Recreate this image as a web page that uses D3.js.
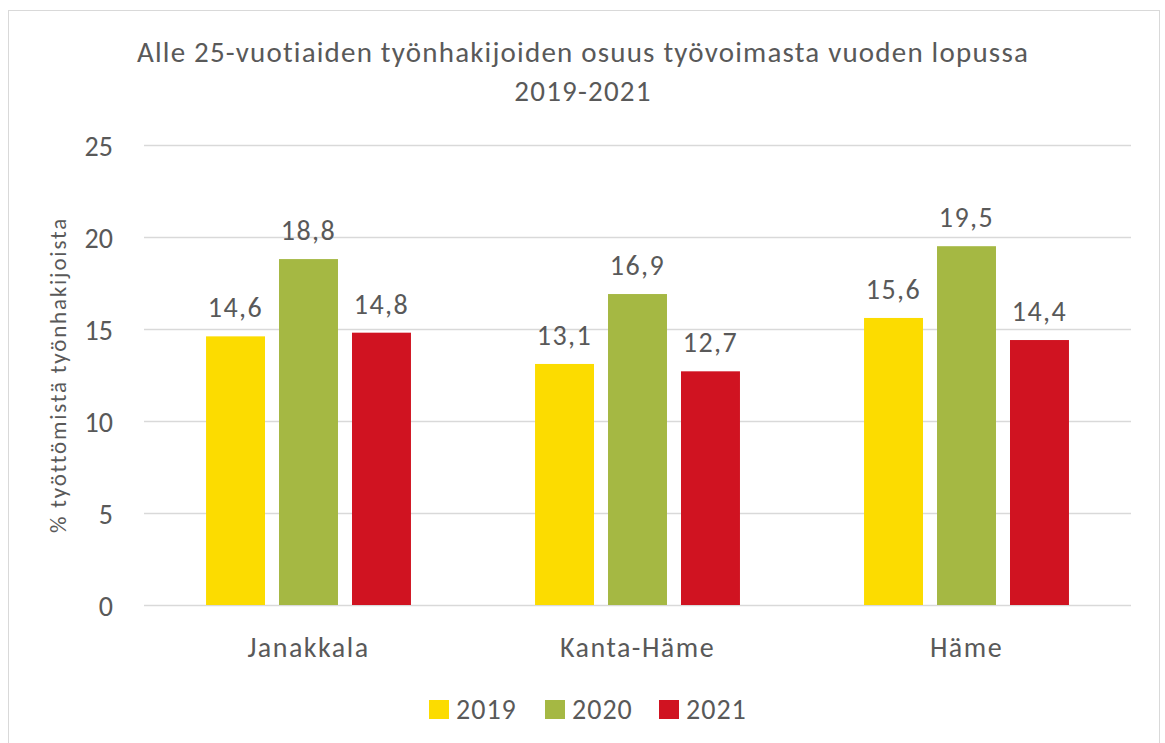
<!DOCTYPE html>
<html>
<head>
<meta charset="utf-8">
<script src="https://cdn.jsdelivr.net/npm/d3@7"></script>
<style>
  body { margin: 0; background: #fff; }
  text { font-family: Carlito, Calibri, Lato, "Open Sans", sans-serif; fill: #595959; }
</style>
</head>
<body>
<script>
// data
var categories = ["Janakkala", "Kanta-Häme", "Häme"];
var years = ["2019", "2020", "2021"];
var values2019 = [14.6, 13.1, 15.6];
var values2020 = [18.8, 16.9, 19.5];
var values2021 = [14.8, 12.7, 14.4];
var yTicks = [0, 5, 10, 15, 20, 25];
var colors = ["#FCDC00", "#A5B843", "#D01321"];

var series = [values2019, values2020, values2021];

var width = 1165, height = 743;
var plot = {left: 144, right: 1131, top: 145, bottom: 605};

var svg = d3.select("body").append("svg")
	.attr("width", width)
	.attr("height", height);

// outer frame
svg.append("rect")
	.attr("x", 8.5).attr("y", 10.5)
	.attr("width", 1151).attr("height", 740)
	.attr("fill", "#fff")
	.attr("stroke", "#d9d9d9");

// title
svg.append("text")
	.attr("x", 583).attr("y", 62)
	.attr("text-anchor", "middle")
	.attr("font-size", 29)
	.attr("letter-spacing", 1.2)
	.text("Alle 25-vuotiaiden työnhakijoiden osuus työvoimasta vuoden lopussa");
svg.append("text")
	.attr("x", 583).attr("y", 101)
	.attr("text-anchor", "middle")
	.attr("font-size", 29)
	.attr("letter-spacing", 1.2)
	.text("2019-2021");

var x0 = d3.scaleBand()
	.domain(categories)
	.range([plot.left, plot.right]);

var x1 = d3.scaleBand()
	.domain(years)
	.range([0, x0.bandwidth()])
	.paddingInner(0.192)
	.paddingOuter(0.85);

var y = d3.scaleLinear()
	.domain([0, 25])
	.range([plot.bottom, plot.top]);

// grid
svg.append("g")
	.selectAll("line")
	.data(yTicks)
	.enter()
	.append("line")
	.attr("x1", plot.left).attr("x2", plot.right)
	.attr("y1", function(d) { return Math.round(y(d)) + 0.5; })
	.attr("y2", function(d) { return Math.round(y(d)) + 0.5; })
	.attr("stroke", "#d9d9d9")
	.attr("stroke-width", 1.5);

// y axis
var yAxis = d3.axisLeft(y).tickValues(yTicks).tickSize(0).tickPadding(0);
var yG = svg.append("g")
	.attr("transform", "translate(113,0)")
	.call(yAxis);
yG.select(".domain").remove();
yG.selectAll("text")
	.attr("font-size", 28)
	.attr("fill", "#595959")
	.attr("dy", "0.36em")
	.style("font-family", "Carlito, Calibri, Lato, 'Open Sans', sans-serif");

svg.append("text")
	.attr("transform", "translate(66,375) rotate(-90)")
	.attr("text-anchor", "middle")
	.attr("font-size", 23)
	.attr("letter-spacing", 1.8)
	.text("% työttömistä työnhakijoista");

// bars
var groups = svg.append("g")
	.selectAll("g")
	.data(categories)
	.enter()
	.append("g")
	.attr("transform", function(d) { return "translate(" + x0(d) + ",0)"; });

groups.selectAll("rect")
	.data(function(d, i) { return years.map(function(yr, j) { return {year: yr, value: series[j][i], k: j}; }); })
	.enter()
	.append("rect")
	.attr("x", function(d) { return x1(d.year); })
	.attr("width", x1.bandwidth())
	.attr("y", function(d) { return y(d.value); })
	.attr("height", function(d) { return y(0) - y(d.value); })
	.attr("fill", function(d) { return colors[d.k]; });

groups.selectAll("text.val")
	.data(function(d, i) { return years.map(function(yr, j) { return {year: yr, value: series[j][i]}; }); })
	.enter()
	.append("text")
	.attr("class", "val")
	.attr("x", function(d) { return x1(d.year) + x1.bandwidth() / 2; })
	.attr("y", function(d) { return y(d.value) - 19; })
	.attr("text-anchor", "middle")
	.attr("font-size", 28)
	.attr("letter-spacing", 1.5)
	.text(function(d) { return d3.format(".1f")(d.value).replace(".", ","); });

// category labels
svg.append("g")
	.selectAll("text")
	.data(categories)
	.enter()
	.append("text")
	.attr("x", function(d) { return x0(d) + x0.bandwidth() / 2; })
	.attr("y", 657)
	.attr("text-anchor", "middle")
	.attr("font-size", 28)
	.attr("letter-spacing", 1.5)
	.text(function(d) { return d; });

// legend
var legendX = [429, 545, 659];
var legend = svg.append("g")
	.selectAll("g")
	.data(years)
	.enter()
	.append("g")
	.attr("transform", function(d, i) { return "translate(" + legendX[i] + ",700)"; });
legend.append("rect")
	.attr("width", 20).attr("height", 19)
	.attr("fill", function(d, i) { return colors[i]; });
legend.append("text")
	.attr("x", 27).attr("y", 19)
	.attr("font-size", 28)
	.attr("letter-spacing", 1)
	.text(function(d) { return d; });
</script>
</body>
</html>
